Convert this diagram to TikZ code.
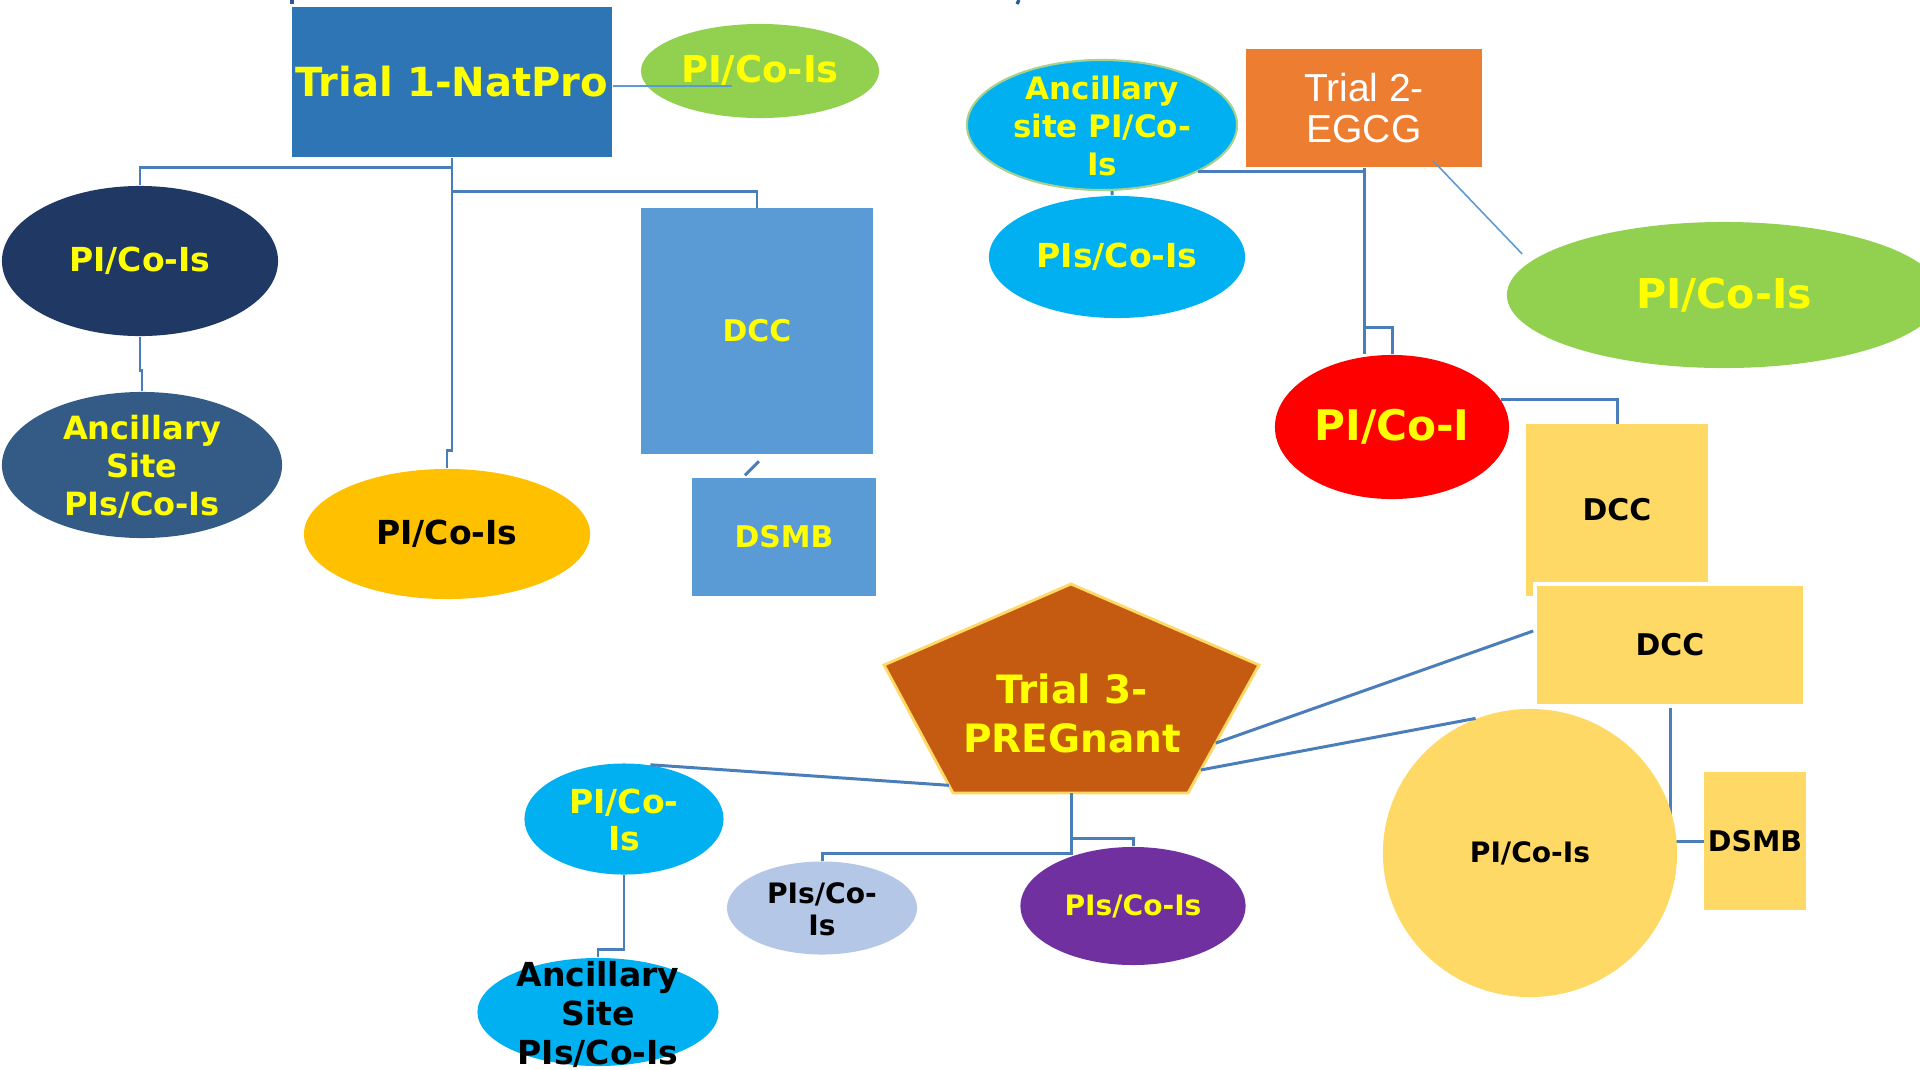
\documentclass[tikz,border=0pt]{standalone}
\usepackage{fontspec}
\setmainfont{DejaVu Sans}
\newfontfamily\arialf{Liberation Sans}
\usetikzlibrary{calc,shapes.geometric}
\definecolor{tonebl}{HTML}{2E75B6}
\definecolor{grn}{HTML}{92D050}
\definecolor{navy}{HTML}{203864}
\definecolor{slate}{HTML}{345B86}
\definecolor{gold}{HTML}{FFC000}
\definecolor{midbl}{HTML}{5B9BD5}
\definecolor{cyanb}{HTML}{00B0F0}
\definecolor{orng}{HTML}{ED7D31}
\definecolor{lyel}{HTML}{FFD966}
\definecolor{brwn}{HTML}{C55A11}
\definecolor{lblue}{HTML}{B4C7E7}
\definecolor{purp}{HTML}{7030A0}
\definecolor{tyel}{HTML}{FFFF00}
\definecolor{linebl}{HTML}{4A7EBB}
\definecolor{lgrn}{HTML}{A9D18E}
\definecolor{markbl}{HTML}{2F5597}
\newcommand{\mlt}[1]{\smash{\raisebox{\dimexpr-.25em-1.5pt\relax}{\begin{tabular}{@{}c@{}}#1\end{tabular}}}}
\begin{document}
\begin{tikzpicture}[x=0.01cm,y=-0.01cm,
  conn/.style={draw=linebl, line width=0.85pt},
  thinc/.style={draw=midbl, line width=0.45pt},
  ell/.style={ellipse, inner sep=0pt},
  box/.style={rectangle, inner sep=0pt, align=center},
]
\useasboundingbox (0,0) rectangle (1920,1069);
\clip (0,0) rectangle (1920,1069);

% ---------- Trial 1 ----------
\node[box, fill=tonebl, minimum width=3.2cm, minimum height=1.5cm, text=tyel, font=\bfseries\fontsize{11.4}{13}\selectfont] (t1) at (452,82) {Trial 1-NatPro};
\node[ell, fill=grn, minimum width=2.38cm, minimum height=0.94cm, text=tyel, font=\bfseries\fontsize{10.5}{12}\selectfont] (g1) at (760,71) {PI/Co-Is};
\node[ell, fill=navy, minimum width=2.76cm, minimum height=1.5cm, text=tyel, font=\bfseries\fontsize{9.4}{10.8}\selectfont] (n1) at (140,261) {PI/Co-Is};
\node[ell, fill=slate, minimum width=2.8cm, minimum height=1.46cm, text=tyel, font=\bfseries\fontsize{9.1}{10.8}\selectfont] (a1) at (142,465) {\mlt{Ancillary\\Site\\PIs/Co-Is}};
\node[ell, fill=gold, minimum width=2.86cm, minimum height=1.3cm, text=black, font=\bfseries\fontsize{9.4}{10.8}\selectfont] (y1) at (447,534) {PI/Co-Is};
\node[box, fill=midbl, minimum width=2.32cm, minimum height=2.45cm, text=tyel, font=\bfseries\fontsize{8.5}{10}\selectfont] (dcc1) at (757,331) {DCC};
\node[box, fill=midbl, minimum width=1.84cm, minimum height=1.18cm, text=tyel, font=\bfseries\fontsize{8.5}{10}\selectfont] (dsmb1) at (784,537) {DSMB};

\draw[thinc] ([yshift=-0.04cm]t1.east) -- ([xshift=-0.28cm,yshift=-0.15cm]g1.center);
\draw[conn] (t1.south) -- ++(0,10) -| (n1.north);
\draw[conn] (t1.south) -- ++(0,34) -| (dcc1.north);
\draw[conn] (t1.south) -- ++(0,293) -| (y1.north);
\draw[conn] (n1.south) -- ++(0,34) -| (a1.north);
\draw[conn] ([xshift=0.02cm,yshift=-0.07cm]dcc1.south) -- ([xshift=-0.39cm,yshift=0.02cm]dsmb1.north);

% ---------- Trial 2 ----------
\node[ell, fill=cyanb, draw=lgrn, line width=0.6pt, minimum width=2.7cm, minimum height=1.3cm, text=tyel, font=\bfseries\fontsize{8.8}{10.8}\selectfont] (a2) at (1102,125) {\mlt{Ancillary\\site PI/Co-\\Is}};
\node[box, fill=orng, minimum width=2.36cm, minimum height=1.18cm, text=white, font=\arialf\fontsize{11.1}{11.4}\selectfont] (t2) at (1364,108) {Trial 2-\\EGCG};
\node[ell, fill=cyanb, minimum width=2.56cm, minimum height=1.22cm, text=tyel, font=\bfseries\fontsize{9.4}{10.8}\selectfont] (p2) at (1117,257) {PIs/Co-Is};
\node[ell, fill=grn, minimum width=4.34cm, minimum height=1.46cm, text=tyel, font=\bfseries\fontsize{11.7}{13}\selectfont] (g2) at (1724,295) {PI/Co-Is};
\node[ell, fill=red, minimum width=2.34cm, minimum height=1.44cm, text=tyel, font=\bfseries\fontsize{12}{13}\selectfont] (r2) at (1392,427) {PI/Co-I};
\node[box, fill=lyel, minimum width=1.82cm, minimum height=1.71cm, text=black, font=\bfseries\fontsize{8.5}{10}\selectfont] (dcc2) at (1617,510) {DCC};

\draw[conn] (a2.south east) -| (t2.south |- r2.north);
\draw[conn] (t2.south) -- ++(0,160) -| (r2.north);
\draw[conn] ([xshift=0.1cm]a2.south) -- ([xshift=-0.05cm]p2.north);
\draw[thinc] ([xshift=0.69cm,yshift=0.07cm]t2.south) -- ([xshift=0.16cm,yshift=0.41cm]g2.west);
\draw[conn] (r2.14) -| (dcc2.north);

% ---------- Trial 3 ----------
\node[box, fill=lyel, draw=white, line width=1pt, minimum width=2.7cm, minimum height=1.22cm, text=black, font=\bfseries\fontsize{8.5}{10}\selectfont] (dcc3) at (1670,645) {DCC};
\node[box, fill=lyel, minimum width=1.01cm, minimum height=1.38cm, text=black, font=\bfseries\fontsize{8.1}{10}\selectfont] (dsmb2) at (1755,841) {DSMB};
\draw[conn] (dcc3.south) |- (dsmb2.west);
\node[ell, fill=lyel, minimum width=2.94cm, minimum height=2.88cm, text=black, font=\bfseries\fontsize{8}{10}\selectfont] (c3) at (1530,853) {PI/Co-Is};

\coordinate (pt) at (1071,584);
\coordinate (pl) at (884,665);
\coordinate (pr) at (1259,665);
\coordinate (pbl) at (953,793);
\coordinate (pbr) at (1188,793);
\coordinate (pb) at (1071,793);
\filldraw[fill=brwn, draw=lyel, line width=0.8pt] (pt) -- (pr) -- (pbr) -- (pbl) -- (pl) -- cycle;
\node[align=center, text=tyel, font=\bfseries\fontsize{11.1}{13.9}\selectfont] (p3) at (1072,713) {Trial 3-\\PREGnant};

\node[ell, fill=cyanb, minimum width=1.99cm, minimum height=1.11cm, text=tyel, font=\bfseries\fontsize{9.4}{10.5}\selectfont] (e3) at (624,819) {\mlt{PI/Co-\\Is}};
\node[ell, fill=lblue, minimum width=1.9cm, minimum height=0.93cm, text=black, font=\bfseries\fontsize{8}{9.1}\selectfont] (lb) at (822,908) {\mlt{PIs/Co-\\Is}};
\node[ell, fill=purp, minimum width=2.25cm, minimum height=1.18cm, text=tyel, font=\bfseries\fontsize{8}{10}\selectfont] (pu) at (1133,906) {PIs/Co-Is};
\node[ell, fill=cyanb, minimum width=2.41cm, minimum height=1.08cm, text=black, font=\bfseries\fontsize{9.4}{11}\selectfont] (a3) at (598,1012) {\mlt{Ancillary\\Site\\PIs/Co-Is}};

\draw[conn] ($(pr)!0.61!(pbr)$) -- ([yshift=0.14cm]dcc3.west);
\draw[conn] ($(pr)!0.82!(pbr)$) -- (c3.112);
\draw[conn] ($(pl)!0.94!(pbl)$) -- (e3.64);
\draw[conn] (pb) -- ++(0,60) -| (lb.north);
\draw[conn] (pb) -- ++(0,45) -| (pu.north);
\draw[conn] (e3.south) -- ++(0,74) -| (a3.north);

% tiny cut-off marks at the top edge
\draw[draw=markbl, line width=0.9pt] (292,4) -- (292,0);
\draw[draw=markbl, line width=0.9pt] (1017,4) -- (1019,0);
\end{tikzpicture}
\end{document}
